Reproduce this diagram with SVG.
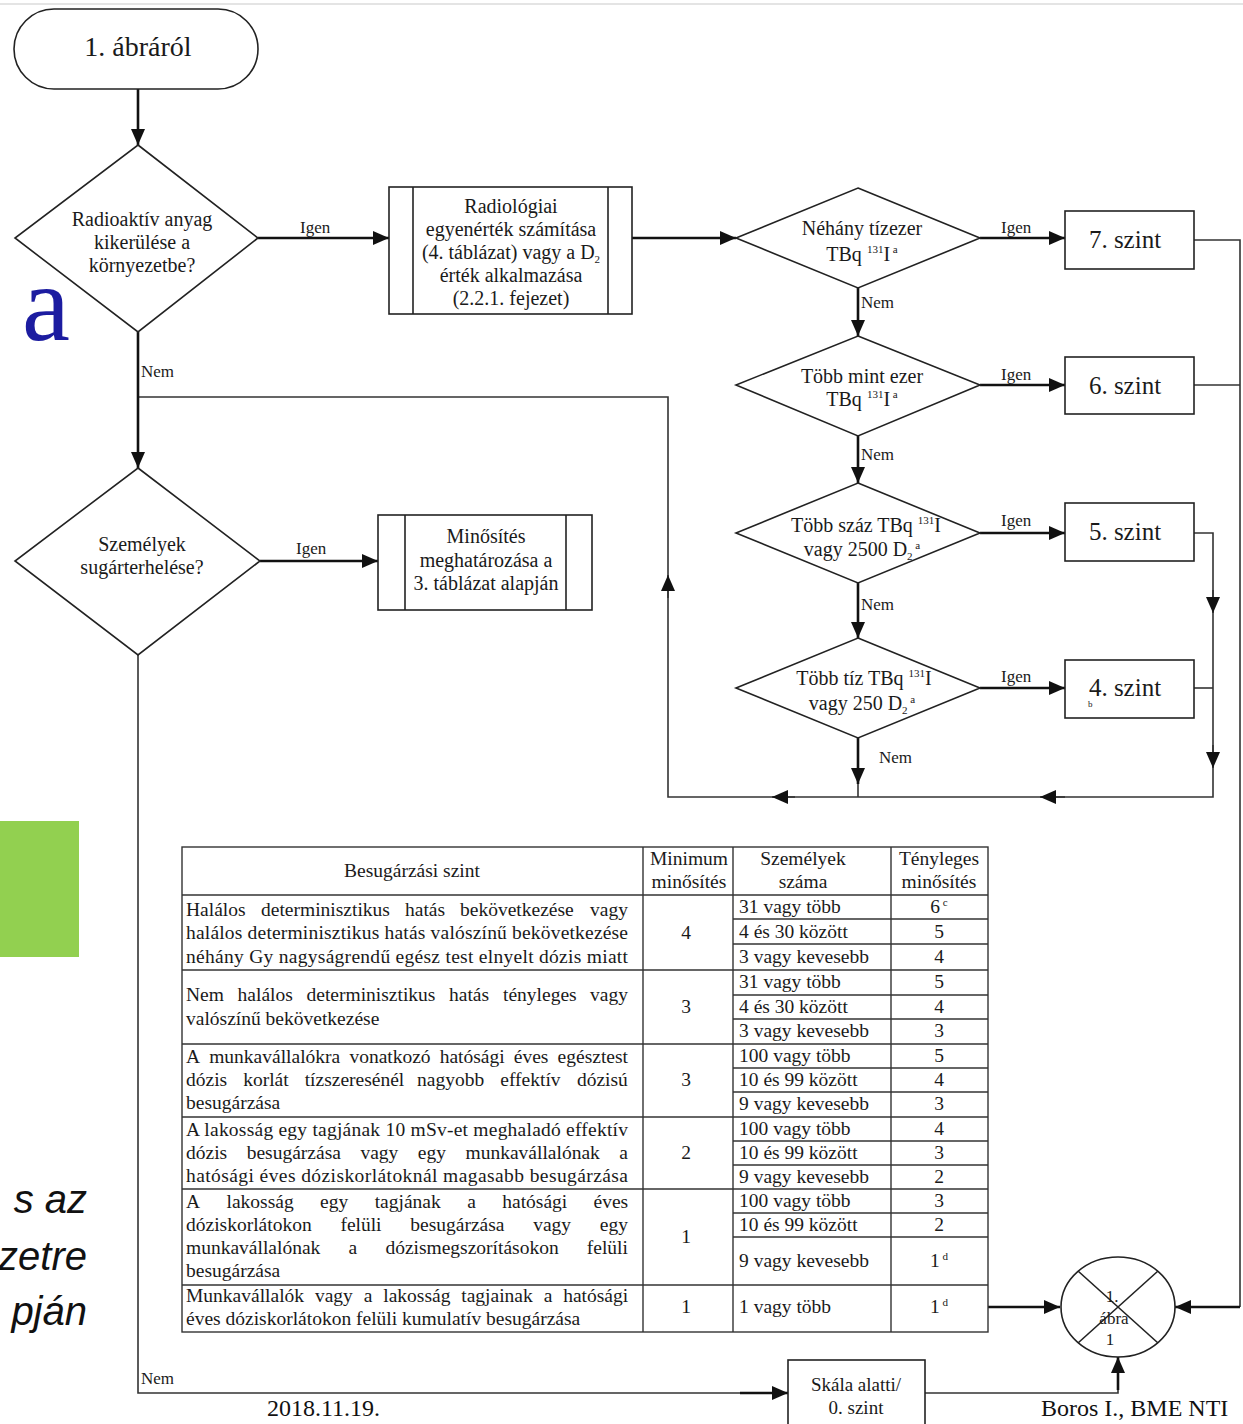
<svg xmlns="http://www.w3.org/2000/svg" width="1243" height="1424" viewBox="0 0 1243 1424">
<defs>
<marker id="arr" viewBox="0 0 16 14" refX="16" refY="7" markerWidth="16" markerHeight="14" markerUnits="userSpaceOnUse" orient="auto">
<path d="M0,0 L16,7 L0,14 Z" fill="#111"/>
</marker>
</defs>
<style>
text{font-family:"Liberation Serif","Times New Roman",serif;fill:#1a1a1a}
.n{font-size:20px;text-anchor:middle}
.big{font-size:25px;text-anchor:middle}
.lbl{font-size:17px}
.shape{fill:#fff;stroke:#222;stroke-width:1.6}
.c{fill:none;stroke:#111;stroke-width:2.6}
.ct{fill:none;stroke:#333;stroke-width:1.6}
.tb{fill:none;stroke:#333;stroke-width:1.4}
.tt{font-size:19.5px}
.tc{font-size:19.5px;text-anchor:middle}
.sup{font-size:11px}
.it{font-family:"Liberation Sans",Arial,sans-serif;font-size:40px;font-style:italic;text-anchor:end;fill:#111}
</style>
<rect x="0" y="0" width="1243" height="1424" fill="#fff"/>
<line x1="0" y1="4" x2="1243" y2="4" stroke="#e4e4e4" stroke-width="2"/>

<!-- slide decorations -->
<text x="22" y="340" style="font-size:108px;fill:#1c1ca0">a</text>
<rect x="0" y="821" width="79" height="136" fill="#92d050"/>
<text class="it" x="87" y="1213">s az</text>
<text class="it" x="87" y="1270">zetre</text>
<text class="it" x="87" y="1325">pján</text>
<text x="267" y="1416" style="font-size:24px;fill:#111">2018.11.19.</text>
<text x="1041" y="1416" style="font-size:24px;fill:#111">Boros I., BME NTI</text>

<!-- connectors -->
<g id="connectors">
<path class="c" d="M138,89 V145" marker-end="url(#arr)"/>
<path class="c" d="M258,238 H389" marker-end="url(#arr)"/>
<path class="c" d="M632,238 H736" marker-end="url(#arr)"/>
<path class="c" d="M980,238 H1065" marker-end="url(#arr)"/>
<path class="c" d="M858,288 V336" marker-end="url(#arr)"/>
<path class="c" d="M980,385 H1065" marker-end="url(#arr)"/>
<path class="c" d="M858,436 V483" marker-end="url(#arr)"/>
<path class="c" d="M980,533 H1065" marker-end="url(#arr)"/>
<path class="c" d="M858,583 V638" marker-end="url(#arr)"/>
<path class="c" d="M980,688 H1065" marker-end="url(#arr)"/>
<path class="c" d="M858,738 V784" marker-end="url(#arr)"/>
<path class="ct" d="M858,784 V797"/>
<path class="ct" d="M1194,240 H1240 V1307"/>
<path class="ct" d="M1194,385 H1240"/>
<path class="c" d="M1240,1307 H1175" marker-end="url(#arr)"/>
<path class="ct" d="M1194,533 H1213 V613"/>
<path class="ct" d="M1213,590 V613" marker-end="url(#arr)"/>
<path class="ct" d="M1194,688 H1213"/>
<path class="ct" d="M1213,613 V768"/>
<path class="ct" d="M1213,745 V768" marker-end="url(#arr)"/>
<path class="ct" d="M1213,768 V797 H1040"/>
<path class="ct" d="M1065,797 H1040" marker-end="url(#arr)"/>
<path class="ct" d="M1040,797 H772"/>
<path class="ct" d="M795,797 H772" marker-end="url(#arr)"/>
<path class="ct" d="M772,797 H668 V575"/>
<path class="ct" d="M668,598 V575" marker-end="url(#arr)"/>
<path class="ct" d="M668,575 V397 H138"/>
<path class="c" d="M138,332 V468" marker-end="url(#arr)"/>
<path class="c" d="M260,561 H378" marker-end="url(#arr)"/>
<path class="ct" d="M138,655 V1393 H760"/>
<path class="c" d="M740,1393 H788" marker-end="url(#arr)"/>
<path class="ct" d="M925,1393 H1118 V1375"/>
<path class="c" d="M1118,1390 V1357" marker-end="url(#arr)"/>
<path class="c" d="M988,1307 H1060" marker-end="url(#arr)"/>
<text class="lbl" x="300" y="233">Igen</text>
<text class="lbl" x="296" y="554">Igen</text>
<text class="lbl" x="1001" y="233">Igen</text>
<text class="lbl" x="1001" y="380">Igen</text>
<text class="lbl" x="1001" y="526">Igen</text>
<text class="lbl" x="1001" y="682">Igen</text>
<text class="lbl" x="141" y="377">Nem</text>
<text class="lbl" x="861" y="308">Nem</text>
<text class="lbl" x="861" y="460">Nem</text>
<text class="lbl" x="861" y="610">Nem</text>
<text class="lbl" x="879" y="763">Nem</text>
<text class="lbl" x="141" y="1384">Nem</text>
</g>

<g id="start">
<rect class="shape" x="14" y="9" width="244" height="80" rx="40" ry="40"/>
<text x="138" y="56" style="font-size:28px;text-anchor:middle">1. ábráról</text>
</g>

<g id="d-release">
<polygon class="shape" points="138,145 258,238 138,332 15,238"/>
<text class="n" x="142" y="226">Radioaktív anyag</text>
<text class="n" x="142" y="249">kikerülése a</text>
<text class="n" x="142" y="272">környezetbe?</text>
</g>

<g id="p-radiol">
<rect class="shape" x="389" y="187" width="243" height="127"/>
<line class="shape" x1="413" y1="187" x2="413" y2="314"/>
<line class="shape" x1="608" y1="187" x2="608" y2="314"/>
<text class="n" x="511" y="213">Radiológiai</text>
<text class="n" x="511" y="236">egyenérték számítása</text>
<text class="n" x="511" y="259">(4. táblázat) vagy a D<tspan class="sup" dy="4">2</tspan></text>
<text class="n" x="511" y="282">érték alkalmazása</text>
<text class="n" x="511" y="305">(2.2.1. fejezet)</text>
</g>

<g id="d-tizezer">
<polygon class="shape" points="858,188 980,238 858,288 736,238"/>
<text class="n" x="862" y="235">Néhány tízezer</text>
<text class="n" x="862" y="261">TBq <tspan class="sup" dy="-8">131</tspan><tspan dy="8">I</tspan><tspan class="sup" dy="-8"> a</tspan></text>
</g>

<g id="d-ezer">
<polygon class="shape" points="858,336 980,385 858,436 736,385"/>
<text class="n" x="862" y="383">Több mint ezer</text>
<text class="n" x="862" y="406">TBq <tspan class="sup" dy="-8">131</tspan><tspan dy="8">I</tspan><tspan class="sup" dy="-8"> a</tspan></text>
</g>

<g id="d-szaz">
<polygon class="shape" points="858,483 980,533 858,583 736,533"/>
<text class="n" x="866" y="532">Több száz TBq <tspan class="sup" dy="-8">131</tspan><tspan dy="8">I</tspan></text>
<text class="n" x="862" y="556">vagy 2500 D<tspan class="sup" dy="4">2</tspan><tspan class="sup" dy="-11"> a</tspan></text>
</g>

<g id="d-tiz">
<polygon class="shape" points="858,638 980,688 858,738 736,688"/>
<text class="n" x="864" y="685">Több tíz TBq <tspan class="sup" dy="-8">131</tspan><tspan dy="8">I</tspan></text>
<text class="n" x="862" y="710">vagy 250 D<tspan class="sup" dy="4">2</tspan><tspan class="sup" dy="-11"> a</tspan></text>
</g>

<g id="s7">
<rect class="shape" x="1065" y="211" width="129" height="58"/>
<text class="big" x="1125" y="248">7. szint</text>
</g>
<g id="s6">
<rect class="shape" x="1065" y="357" width="129" height="57"/>
<text class="big" x="1125" y="394">6. szint</text>
</g>
<g id="s5">
<rect class="shape" x="1065" y="503" width="129" height="58"/>
<text class="big" x="1125" y="540">5. szint</text>
</g>
<g id="s4">
<rect class="shape" x="1065" y="660" width="129" height="58"/>
<text class="big" x="1125" y="696">4. szint</text>
<text x="1088" y="707" style="font-size:9px">b</text>
</g>

<g id="d-persons">
<polygon class="shape" points="138,468 260,561 138,655 15,561"/>
<text class="n" x="142" y="551">Személyek</text>
<text class="n" x="142" y="574">sugárterhelése?</text>
</g>

<g id="p-minosites">
<rect class="shape" x="378" y="515" width="214" height="95"/>
<line class="shape" x1="405" y1="515" x2="405" y2="610"/>
<line class="shape" x1="566" y1="515" x2="566" y2="610"/>
<text class="n" x="486" y="543">Minősítés</text>
<text class="n" x="486" y="567">meghatározása a</text>
<text class="n" x="486" y="590">3. táblázat alapján</text>
</g>

<g id="table">
<rect class="tb" x="182" y="847" width="806" height="485" stroke-width="1.8"/>
<line class="tb" x1="643" y1="847" x2="643" y2="1332"/>
<line class="tb" x1="733" y1="847" x2="733" y2="1332"/>
<line class="tb" x1="891" y1="847" x2="891" y2="1332"/>
<line class="tb" x1="182" y1="895" x2="988" y2="895" stroke-width="2"/>
<line class="tb" x1="182" y1="970" x2="988" y2="970" stroke-width="2"/>
<line class="tb" x1="182" y1="1044" x2="988" y2="1044"/>
<line class="tb" x1="182" y1="1117" x2="988" y2="1117"/>
<line class="tb" x1="182" y1="1189" x2="988" y2="1189"/>
<line class="tb" x1="182" y1="1285" x2="988" y2="1285"/>
<g stroke-width="1">
<line class="tb" x1="733" y1="919" x2="988" y2="919"/>
<line class="tb" x1="733" y1="944" x2="988" y2="944"/>
<line class="tb" x1="733" y1="995" x2="988" y2="995"/>
<line class="tb" x1="733" y1="1019" x2="988" y2="1019"/>
<line class="tb" x1="733" y1="1068" x2="988" y2="1068"/>
<line class="tb" x1="733" y1="1092" x2="988" y2="1092"/>
<line class="tb" x1="733" y1="1141" x2="988" y2="1141"/>
<line class="tb" x1="733" y1="1165" x2="988" y2="1165"/>
<line class="tb" x1="733" y1="1213" x2="988" y2="1213"/>
<line class="tb" x1="733" y1="1237" x2="988" y2="1237"/>
</g>
<text class="tc" x="412" y="877">Besugárzási szint</text>
<text class="tc" x="689" y="865">Minimum</text>
<text class="tc" x="689" y="888">minősítés</text>
<text class="tc" x="803" y="865">Személyek</text>
<text class="tc" x="803" y="888">száma</text>
<text class="tc" x="939" y="865">Tényleges</text>
<text class="tc" x="939" y="888">minősítés</text>

<text class="tt" y="916"><tspan x="186">Halálos</tspan> <tspan x="261">determinisztikus</tspan> <tspan x="405">hatás</tspan> <tspan x="460">bekövetkezése</tspan> <tspan x="590">vagy</tspan></text>
<text class="tt" x="186" y="939" textLength="442" lengthAdjust="spacing">halálos determinisztikus hatás valószínű bekövetkezése</text>
<text class="tt" x="186" y="963" textLength="442" lengthAdjust="spacing">néhány Gy nagyságrendű egész test elnyelt dózis miatt</text>
<text class="tc" x="686" y="939">4</text>
<text class="tt" x="739" y="913">31 vagy több</text>
<text class="tt" x="739" y="938">4 és 30 között</text>
<text class="tt" x="739" y="963">3 vagy kevesebb</text>
<text class="tc" x="939" y="913">6<tspan class="sup" dy="-7"> c</tspan></text>
<text class="tc" x="939" y="938">5</text>
<text class="tc" x="939" y="963">4</text>

<text class="tt" y="1001"><tspan x="186">Nem</tspan> <tspan x="237.6">halálos</tspan> <tspan x="306.5">determinisztikus</tspan> <tspan x="449">hatás</tspan> <tspan x="503">tényleges</tspan> <tspan x="590">vagy</tspan></text>
<text class="tt" x="186" y="1025">valószínű bekövetkezése</text>
<text class="tc" x="686" y="1013">3</text>
<text class="tt" x="739" y="988">31 vagy több</text>
<text class="tt" x="739" y="1013">4 és 30 között</text>
<text class="tt" x="739" y="1037">3 vagy kevesebb</text>
<text class="tc" x="939" y="988">5</text>
<text class="tc" x="939" y="1013">4</text>
<text class="tc" x="939" y="1037">3</text>

<text class="tt" y="1063"><tspan x="186">A</tspan> <tspan x="209.2">munkavállalókra</tspan> <tspan x="349.4">vonatkozó</tspan> <tspan x="439.7">hatósági</tspan> <tspan x="513.8">éves</tspan> <tspan x="557.6">egésztest</tspan></text>
<text class="tt" y="1086"><tspan x="186">dózis</tspan> <tspan x="243.2">korlát</tspan> <tspan x="304.7">tízszeresénél</tspan> <tspan x="417.1">nagyobb</tspan> <tspan x="500.3">effektív</tspan> <tspan x="576.9">dózisú</tspan></text>
<text class="tt" x="186" y="1109">besugárzása</text>
<text class="tc" x="686" y="1086">3</text>
<text class="tt" x="739" y="1062">100 vagy több</text>
<text class="tt" x="739" y="1086">10 és 99 között</text>
<text class="tt" x="739" y="1110">9 vagy kevesebb</text>
<text class="tc" x="939" y="1062">5</text>
<text class="tc" x="939" y="1086">4</text>
<text class="tc" x="939" y="1110">3</text>

<text class="tt" x="186" y="1136" textLength="442" lengthAdjust="spacing">A lakosság egy tagjának 10 mSv-et meghaladó effektív</text>
<text class="tt" y="1159"><tspan x="186">dózis</tspan> <tspan x="246.7">besugárzása</tspan> <tspan x="360.4">vagy</tspan> <tspan x="417.8">egy</tspan> <tspan x="465.5">munkavállalónak</tspan> <tspan x="619.3">a</tspan></text>
<text class="tt" x="186" y="1182" textLength="442" lengthAdjust="spacing">hatósági éves dóziskorlátoknál magasabb besugárzása</text>
<text class="tc" x="686" y="1159">2</text>
<text class="tt" x="739" y="1135">100 vagy több</text>
<text class="tt" x="739" y="1159">10 és 99 között</text>
<text class="tt" x="739" y="1183">9 vagy kevesebb</text>
<text class="tc" x="939" y="1135">4</text>
<text class="tc" x="939" y="1159">3</text>
<text class="tc" x="939" y="1183">2</text>

<text class="tt" y="1208"><tspan x="186">A</tspan> <tspan x="226.5">lakosság</tspan> <tspan x="320.1">egy</tspan> <tspan x="374.7">tagjának</tspan> <tspan x="467.2">a</tspan> <tspan x="502.3">hatósági</tspan> <tspan x="593.5">éves</tspan></text>
<text class="tt" y="1231"><tspan x="186">dóziskorlátokon</tspan> <tspan x="340.4">felüli</tspan> <tspan x="410.3">besugárzása</tspan> <tspan x="533.2">vagy</tspan> <tspan x="599.8">egy</tspan></text>
<text class="tt" y="1254"><tspan x="186">munkavállalónak</tspan> <tspan x="348.5">a</tspan> <tspan x="385.4">dózismegszorításokon</tspan> <tspan x="586.8">felüli</tspan></text>
<text class="tt" x="186" y="1277">besugárzása</text>
<text class="tc" x="686" y="1243">1</text>
<text class="tt" x="739" y="1207">100 vagy több</text>
<text class="tt" x="739" y="1231">10 és 99 között</text>
<text class="tt" x="739" y="1267">9 vagy kevesebb</text>
<text class="tc" x="939" y="1207">3</text>
<text class="tc" x="939" y="1231">2</text>
<text class="tc" x="939" y="1267">1<tspan class="sup" dy="-7"> d</tspan></text>

<text class="tt" y="1302"><tspan x="186">Munkavállalók</tspan> <tspan x="314.9">vagy</tspan> <tspan x="363.7">a</tspan> <tspan x="383.3">lakosság</tspan> <tspan x="461.3">tagjainak</tspan> <tspan x="543.7">a</tspan> <tspan x="563.2">hatósági</tspan></text>
<text class="tt" x="186" y="1325">éves dóziskorlátokon felüli kumulatív besugárzása</text>
<text class="tc" x="686" y="1313">1</text>
<text class="tt" x="739" y="1313">1 vagy több</text>
<text class="tc" x="939" y="1313">1<tspan class="sup" dy="-7"> d</tspan></text>
</g>

<g id="s0">
<rect class="shape" x="788" y="1360" width="137" height="70"/>
<text class="n" x="856" y="1391" style="font-size:19px">Skála alatti/</text>
<text class="n" x="856" y="1414" style="font-size:19px">0. szint</text>
</g>

<g id="connector-1abra">
<ellipse class="shape" cx="1118" cy="1307" rx="57" ry="50"/>
<line class="shape" x1="1078" y1="1271" x2="1158" y2="1343"/>
<line class="shape" x1="1158" y1="1271" x2="1078" y2="1343"/>
<text x="1112" y="1302" style="font-size:17px;text-anchor:middle">1.</text>
<text x="1114" y="1324" style="font-size:17px;text-anchor:middle">ábra</text>
<text x="1110" y="1345" style="font-size:17px;text-anchor:middle">1</text>
</g>
</svg>
